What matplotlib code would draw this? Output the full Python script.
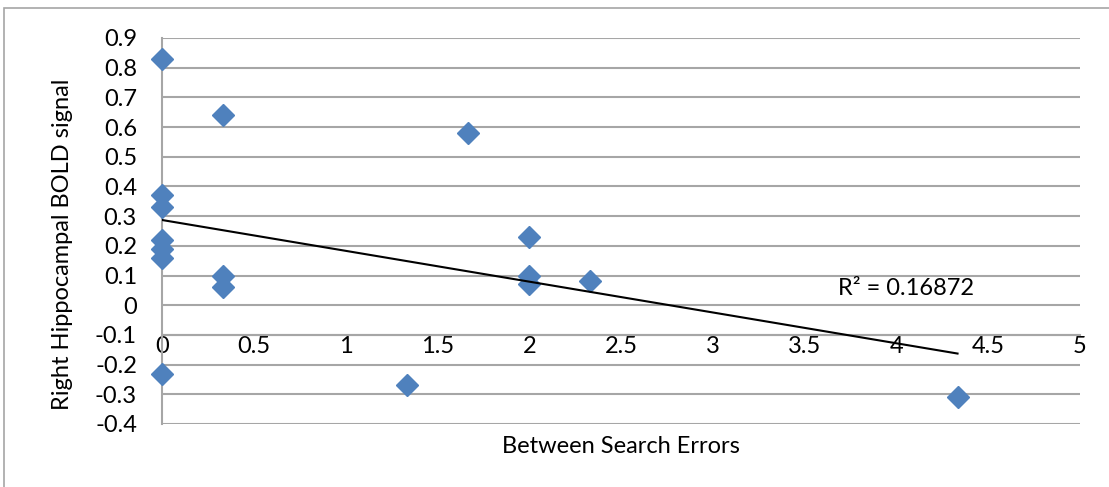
import numpy as np
import matplotlib
matplotlib.use("Agg")
import matplotlib.pyplot as plt
from matplotlib.patches import Rectangle

plt.rcParams['font.family'] = ['Lato', 'DejaVu Sans']

# Between-search errors vs. right hippocampal BOLD signal
errors = [0, 0, 0, 0, 0, 0, 0,
          0.333, 0.333, 0.333,
          1.333, 1.667,
          2, 2, 2, 2.333,
          4.333]
bold = [0.83, 0.37, 0.33, 0.22, 0.19, 0.16, -0.23,
        0.64, 0.10, 0.06,
        -0.27, 0.58,
        0.23, 0.10, 0.07, 0.08,
        -0.31]
r2_label = "R² = 0.16872"
x_ticks = [0, 0.5, 1, 1.5, 2, 2.5, 3, 3.5, 4, 4.5, 5]
y_ticks = [-0.4, -0.3, -0.2, -0.1, 0, 0.1, 0.2, 0.3, 0.4, 0.5, 0.6, 0.7, 0.8, 0.9]

FS = 17

W, H = 1109, 487
fig = plt.figure(figsize=(W / 100, H / 100), dpi=100)
ax = fig.add_axes([162 / W, 1 - 424 / H, (1080 - 162) / W, (424 - 38) / H])

# outer chart frame
fig.patches.append(Rectangle((4 / W, -0.1), 1.2, 1 - 8 / H + 0.1,
                             transform=fig.transFigure, fill=False,
                             edgecolor='#a6a6a6', linewidth=1.2))

ax.set_xlim(0, 5)
ax.set_ylim(-0.4, 0.9)
ax.set_yticks(y_ticks)
ax.set_yticklabels([f"{v:g}" for v in y_ticks])
ax.set_xticks(x_ticks)
ax.set_xticklabels([f"{v:g}" for v in x_ticks])

ax.grid(axis='y', color='#a6a6a6', linewidth=1.5)
ax.set_axisbelow(True)
for s in ['top', 'right']:
    ax.spines[s].set_visible(False)
ax.spines['left'].set_color('#a6a6a6')
ax.spines['left'].set_linewidth(1.5)
ax.spines['bottom'].set_position(('data', -0.1))
ax.spines['bottom'].set_color('#a6a6a6')
ax.spines['bottom'].set_linewidth(1.5)
ax.tick_params(axis='both', length=0, labelsize=FS, colors='black')
ax.tick_params(axis='x', pad=1)
ax.tick_params(axis='y', pad=18)

ax.plot(errors, bold, linestyle='none', marker='D', markersize=11,
        color='#4f81bd', markeredgecolor='#4f81bd', zorder=3, clip_on=False)

# linear trend line over the data range
slope, intercept = np.polyfit(errors, bold, 1)
xs = np.array([min(errors), max(errors)])
ax.plot(xs, slope * xs + intercept, color='black', linewidth=1.5, zorder=4)

ax.text(3.68, 0.055, r2_label, fontsize=FS, va='center', ha='left')

ax.set_xlabel("Between Search Errors", fontsize=FS, labelpad=0)
ax.xaxis.set_label_coords(0.5, -0.03)
ax.set_ylabel("Right Hippocampal BOLD signal", fontsize=FS)
ax.yaxis.set_label_coords(-0.097, 0.466)

fig.savefig("out.png", dpi=100)
